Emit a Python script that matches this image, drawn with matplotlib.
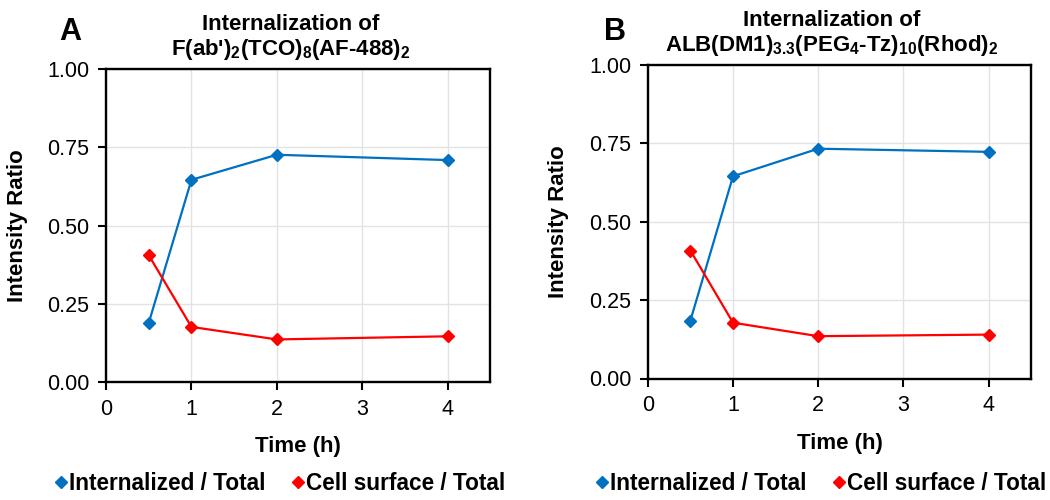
import matplotlib
matplotlib.use("Agg")
import matplotlib.pyplot as plt

plt.rcParams['font.family'] = ['Liberation Sans', 'DejaVu Sans']
plt.rcParams['mathtext.fontset'] = 'custom'
plt.rcParams['mathtext.rm'] = 'Liberation Sans:bold'
plt.rcParams['mathtext.it'] = 'Liberation Sans:bold'
plt.rcParams['mathtext.bf'] = 'Liberation Sans:bold'

# data
time_h = [0.5, 1, 2, 4]
internal_A = [0.189, 0.646, 0.726, 0.709]
surface_A = [0.405, 0.176, 0.136, 0.146]
internal_B = [0.185, 0.645, 0.733, 0.723]
surface_B = [0.408, 0.178, 0.135, 0.140]

titles = ["Internalization of\nF(ab')$_2$(TCO)$_8$(AF-488)$_2$",
          "Internalization of\nALB(DM1)$_{3.3}$(PEG$_4$-Tz)$_{10}$(Rhod)$_2$"]
letters = ["A", "B"]
series_names = ["Internalized / Total", "Cell surface / Total"]
x_ticks = [0, 1, 2, 3, 4]
y_ticks = [0, 0.25, 0.5, 0.75, 1.0]

blue = "#0070C0"
red = "#FF0000"

fig = plt.figure(figsize=(10.5, 5), dpi=100)
ax_a = fig.add_axes([0.101, 0.236, 0.366, 0.626])
ax_b = fig.add_axes([0.617, 0.243, 0.365, 0.627])

panels = [(ax_a, internal_A, surface_A), (ax_b, internal_B, surface_B)]
legend_x = [0.267, 0.782]
letter_x = [0.067, 0.586]

for i, (ax, ins, surf) in enumerate(panels):
    ax.plot(time_h, ins, color=blue, lw=1.6, marker="D", ms=6.5, label=series_names[0], zorder=3)
    ax.plot(time_h, surf, color=red, lw=1.6, marker="D", ms=6.5, label=series_names[1], zorder=3)

    ax.set_xlim(0, 4.5)
    ax.set_ylim(0, 1.0)
    ax.set_xticks(x_ticks)
    ax.set_yticks(y_ticks)
    ax.set_yticklabels([f"{v:.2f}" for v in y_ticks])
    ax.grid(True, color="#e3e3e3", lw=1.0)
    ax.set_axisbelow(True)
    for s in ax.spines.values():
        s.set_linewidth(1.7)
        s.set_color("black")
    ax.tick_params(axis="both", direction="out", length=6, width=1.5,
                   labelsize=15.5, pad=6, color="black")
    ax.tick_params(axis="x", top=False)
    ax.tick_params(axis="y", right=False)

    ax.set_xlabel("Time (h)", fontsize=16, fontweight="bold", labelpad=12)
    ax.set_ylabel("Intensity Ratio", fontsize=16, fontweight="bold", labelpad=14)
    ax.set_title(titles[i], fontsize=16, fontweight="bold", pad=10, x=0.48,
                 linespacing=1.1)

    leg = ax.legend(loc="center", bbox_to_anchor=(legend_x[i], 0.034),
                    bbox_transform=fig.transFigure, ncol=2,
                    frameon=False, handlelength=0.5, handletextpad=0.1,
                    columnspacing=1.2, borderpad=0.1,
                    prop={"weight": "bold", "size": 16.3})
    for h in leg.legend_handles:
        h.set_linestyle("none")
        h.set_markersize(6.5)

    fig.text(letter_x[i], 0.935, letters[i], fontsize=22, fontweight="bold",
             ha="center", va="center")

fig.savefig("out.png", dpi=100)
